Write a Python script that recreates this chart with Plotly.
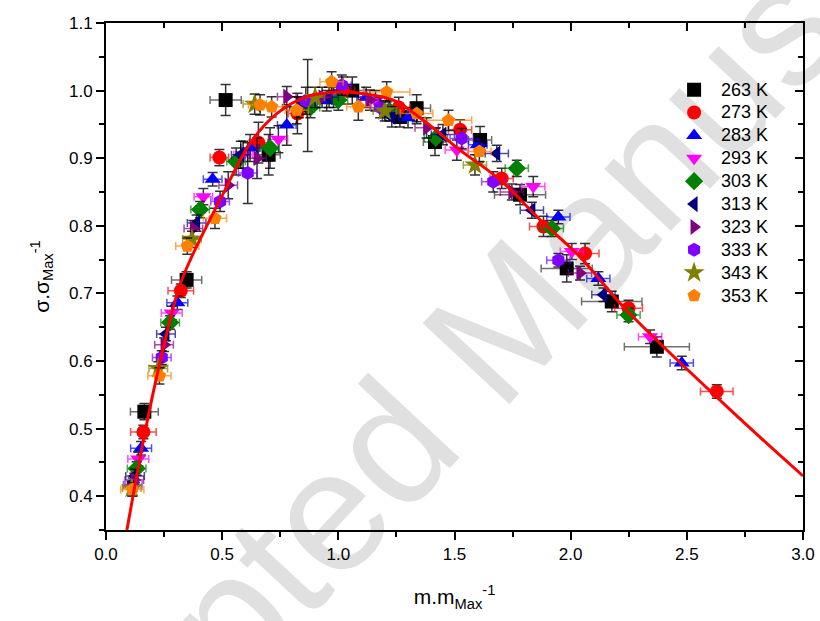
import plotly.graph_objects as go

# ---------------- data ----------------
labels = ["263 K", "273 K", "283 K", "293 K", "303 K", "313 K", "323 K", "333 K", "343 K", "353 K"]
colors = ["#000000", "#ff0000", "#0000ff", "#ff00ff", "#008000", "#000080", "#800080", "#8000ff", "#808000", "#ff8000"]
symbols = ["square", "circle", "triangle-up", "triangle-down", "diamond", "triangle-left",
           "triangle-right", "hexagon", "star", "pentagon"]

x263 = [0.165, 0.347, 0.515, 0.70, 0.868, 1.06, 1.265, 1.337, 1.416, 1.61, 1.782, 1.983, 2.177, 2.371]
y263 = [0.525, 0.720, 0.986, 0.905, 0.978, 1.0, 0.961, 0.974, 0.924, 0.927, 0.846, 0.737, 0.688, 0.621]
ex263 = [0.06, 0.065, 0.067, 0.05, 0.04, 0.05, 0.06, 0.06, 0.05, 0.05, 0.11, 0.11, 0.13, 0.14]
ey263 = [0.012, 0.012, 0.023, 0.03, 0.068, 0.02, 0.015, 0.02, 0.02, 0.02, 0.015, 0.02, 0.015, 0.015]

x273 = [0.161, 0.322, 0.488, 0.656, 0.824, 1.02, 1.26, 1.524, 1.703, 1.883, 2.062, 2.249, 2.629]
y273 = [0.495, 0.704, 0.901, 0.923, 0.966, 1.0, 0.975, 0.942, 0.870, 0.799, 0.759, 0.678, 0.555]
ex273 = [0.055, 0.055, 0.04, 0.04, 0.04, 0.05, 0.05, 0.05, 0.05, 0.06, 0.06, 0.06, 0.07]
ey273 = [0.01, 0.01, 0.012, 0.03, 0.03, 0.02, 0.015, 0.015, 0.015, 0.015, 0.015, 0.012, 0.01]

x283 = [0.151, 0.307, 0.459, 0.62, 0.778, 0.95, 1.12, 1.30, 1.60, 1.947, 2.119, 2.478]
y283 = [0.471, 0.686, 0.869, 0.915, 0.949, 0.985, 0.99, 0.96, 0.92, 0.813, 0.722, 0.597]
ex283 = [0.045, 0.045, 0.04, 0.04, 0.04, 0.04, 0.04, 0.04, 0.04, 0.05, 0.05, 0.05]
ey283 = [0.01, 0.01, 0.01, 0.02, 0.03, 0.015, 0.015, 0.015, 0.015, 0.01, 0.01, 0.01]

x293 = [0.139, 0.283, 0.419, 0.59, 0.742, 0.98, 1.16, 1.51, 1.839, 2.005, 2.342]
y293 = [0.455, 0.671, 0.843, 0.905, 0.928, 0.99, 0.985, 0.912, 0.858, 0.762, 0.636]
ex293 = [0.045, 0.045, 0.04, 0.04, 0.04, 0.04, 0.04, 0.05, 0.05, 0.05, 0.05]
ey293 = [0.01, 0.01, 0.012, 0.02, 0.02, 0.015, 0.015, 0.015, 0.015, 0.012, 0.01]

x303 = [0.132, 0.276, 0.405, 0.56, 0.706, 0.88, 1.0, 1.22, 1.42, 1.768, 1.919, 2.249]
y303 = [0.441, 0.657, 0.824, 0.895, 0.915, 0.975, 0.986, 0.97, 0.93, 0.885, 0.796, 0.668]
ex303 = [0.04, 0.04, 0.04, 0.04, 0.04, 0.04, 0.04, 0.04, 0.05, 0.05, 0.05, 0.05]
ey303 = [0.01, 0.01, 0.012, 0.02, 0.03, 0.015, 0.015, 0.015, 0.015, 0.012, 0.012, 0.01]

x313 = [0.125, 0.258, 0.39, 0.58, 0.83, 0.96, 1.23, 1.45, 1.682, 1.833, 2.141]
y313 = [0.430, 0.640, 0.804, 0.905, 0.975, 0.99, 0.961, 0.935, 0.907, 0.823, 0.698]
ex313 = [0.04, 0.04, 0.04, 0.04, 0.04, 0.04, 0.04, 0.05, 0.05, 0.05, 0.05]
ey313 = [0.01, 0.01, 0.012, 0.02, 0.015, 0.015, 0.015, 0.015, 0.012, 0.012, 0.01]

x323 = [0.122, 0.250, 0.376, 0.526, 0.65, 0.778, 0.93, 1.136, 1.38, 1.747, 2.04]
y323 = [0.424, 0.624, 0.796, 0.860, 0.90, 0.991, 0.99, 0.986, 0.945, 0.850, 0.730]
ex323 = [0.04, 0.04, 0.04, 0.04, 0.04, 0.04, 0.04, 0.04, 0.05, 0.05, 0.05]
ey323 = [0.01, 0.01, 0.012, 0.02, 0.03, 0.015, 0.015, 0.015, 0.015, 0.012, 0.01]

x333 = [0.115, 0.240, 0.491, 0.610, 0.86, 1.015, 1.18, 1.531, 1.667, 1.947]
y333 = [0.417, 0.605, 0.836, 0.878, 0.985, 1.008, 0.975, 0.929, 0.865, 0.749]
ex333 = [0.04, 0.04, 0.04, 0.04, 0.04, 0.04, 0.04, 0.05, 0.05, 0.05]
ey333 = [0.01, 0.01, 0.015, 0.045, 0.02, 0.015, 0.015, 0.015, 0.015, 0.01]

x343 = [0.111, 0.225, 0.37, 0.64, 0.90, 1.2, 1.588]
y343 = [0.412, 0.589, 0.78, 0.98, 0.99, 0.97, 0.890]
ex343 = [0.04, 0.04, 0.04, 0.05, 0.04, 0.05, 0.05]
ey343 = [0.01, 0.01, 0.012, 0.015, 0.015, 0.015, 0.015]

x353 = [0.113, 0.230, 0.350, 0.469, 0.663, 0.713, 0.821, 0.971, 1.086, 1.208, 1.337, 1.474, 1.607]
y353 = [0.41, 0.578, 0.770, 0.811, 0.979, 0.976, 0.971, 1.013, 0.976, 0.998, 0.966, 0.956, 0.910]
ex353 = [0.05, 0.05, 0.05, 0.05, 0.05, 0.05, 0.05, 0.05, 0.05, 0.1, 0.07, 0.1, 0.05]
ey353 = [0.01, 0.012, 0.012, 0.015, 0.015, 0.015, 0.02, 0.015, 0.02, 0.015, 0.015, 0.015, 0.015]

fit_x = [0.090, 0.168, 0.225, 0.311, 0.362, 0.505, 0.620, 0.735, 0.864, 0.993, 1.093, 1.237,
         1.381, 1.524, 1.696, 1.868, 2.040, 2.241, 2.727, 3.0]
fit_y = [0.350, 0.495, 0.587, 0.705, 0.749, 0.848, 0.922, 0.966, 0.991, 0.998, 0.996, 0.986,
         0.952, 0.912, 0.868, 0.809, 0.754, 0.675, 0.515, 0.430]

series_x = [x263, x273, x283, x293, x303, x313, x323, x333, x343, x353]
series_y = [y263, y273, y283, y293, y303, y313, y323, y333, y343, y353]
series_ex = [ex263, ex273, ex283, ex293, ex303, ex313, ex323, ex333, ex343, ex353]
series_ey = [ey263, ey273, ey283, ey293, ey303, ey313, ey323, ey333, ey343, ey353]


def rgba(hexc, a):
    h = hexc.lstrip("#")
    return "rgba(%d,%d,%d,%.2f)" % (int(h[0:2], 16), int(h[2:4], 16), int(h[4:6], 16), a)


fig = go.Figure()
for i in range(len(labels)):
    fig.add_trace(go.Scatter(
        x=series_x[i], y=series_y[i], mode="markers",
        name="<span style='font-size:18px'>%s</span>" % labels[i],
        marker=dict(symbol=symbols[i], color=colors[i], size=14 if symbols[i] != "star" else 16,
                    line=dict(width=0)),
        error_x=dict(type="data", array=series_ex[i],
                     color=rgba(colors[i] if colors[i] != "#000000" else "#333333", 0.7),
                     thickness=1.5, width=4),
        error_y=dict(type="data", array=series_ey[i], color="rgba(0,0,0,0.8)", thickness=1.5, width=5),
    ))

fig.add_trace(go.Scatter(x=fit_x, y=fit_y, mode="lines", line=dict(color="#ff0000", width=3, shape="spline"),
                         showlegend=False, hoverinfo="skip"))
# invisible trace for mirrored axes
fig.add_trace(go.Scatter(x=[0, 3], y=[0.35, 1.1], xaxis="x2", yaxis="y2", mode="markers",
                         marker=dict(opacity=0), showlegend=False, hoverinfo="skip"))

font_family = "Arial, Liberation Sans, sans-serif"
axis_common = dict(showgrid=False, zeroline=False, showline=True, linecolor="black", linewidth=2,
                   tickcolor="black", tickwidth=2, ticklen=8, automargin=False,
                   tickfont=dict(family=font_family, size=17, color="black"))

fig.update_layout(
    width=820, height=621,
    margin=dict(l=106, r=17, t=23, b=91),
    paper_bgcolor="white", plot_bgcolor="white",
    font=dict(family=font_family, color="black"),
    xaxis=dict(range=[0, 3], dtick=0.5, tickformat=".1f", ticks="outside",
               minor=dict(dtick=0.25, ticks="outside", ticklen=5, tickwidth=2, tickcolor="black"),
               title=dict(text="m.m<sub>Max</sub><sup>-1</sup>", font=dict(size=21), standoff=26),
               **axis_common),
    yaxis=dict(range=[0.35, 1.1], dtick=0.1, tick0=0.4, tickformat=".1f", ticks="outside",
               minor=dict(dtick=0.05, ticks="outside", ticklen=5, tickwidth=2, tickcolor="black"),
               title=dict(text="σ.σ<sub>Max</sub><sup>-1</sup>", font=dict(size=21), standoff=14),
               **axis_common),
    xaxis2=dict(range=[0, 3], dtick=0.5, overlaying="x", side="top", ticks="inside", showticklabels=False,
                minor=dict(dtick=0.25, ticks="inside", ticklen=5, tickwidth=2, tickcolor="black"),
                **axis_common),
    yaxis2=dict(range=[0.35, 1.1], dtick=0.1, tick0=0.4, overlaying="y", side="right", ticks="inside",
                showticklabels=False,
                minor=dict(dtick=0.05, ticks="inside", ticklen=5, tickwidth=2, tickcolor="black"),
                **axis_common),
    legend=dict(x=0.805, y=0.901, xanchor="left", yanchor="top", bgcolor="rgba(0,0,0,0)",
                itemwidth=44,
                font=dict(family=font_family, size=15.3, color="black"), borderwidth=0),
    shapes=[dict(type="rect", xref="paper", yref="paper", x0=0.522, x1=0.523, y0=0.385, y1=0.386,
                 layer="below", line=dict(width=0), fillcolor="rgba(0,0,0,0)",
                 label=dict(text="Accepted Manuscript", textangle=-47, textposition="middle center",
                            font=dict(family=font_family, size=172, color="#e0e0e0")))],
)

fig.write_html("out.html")
